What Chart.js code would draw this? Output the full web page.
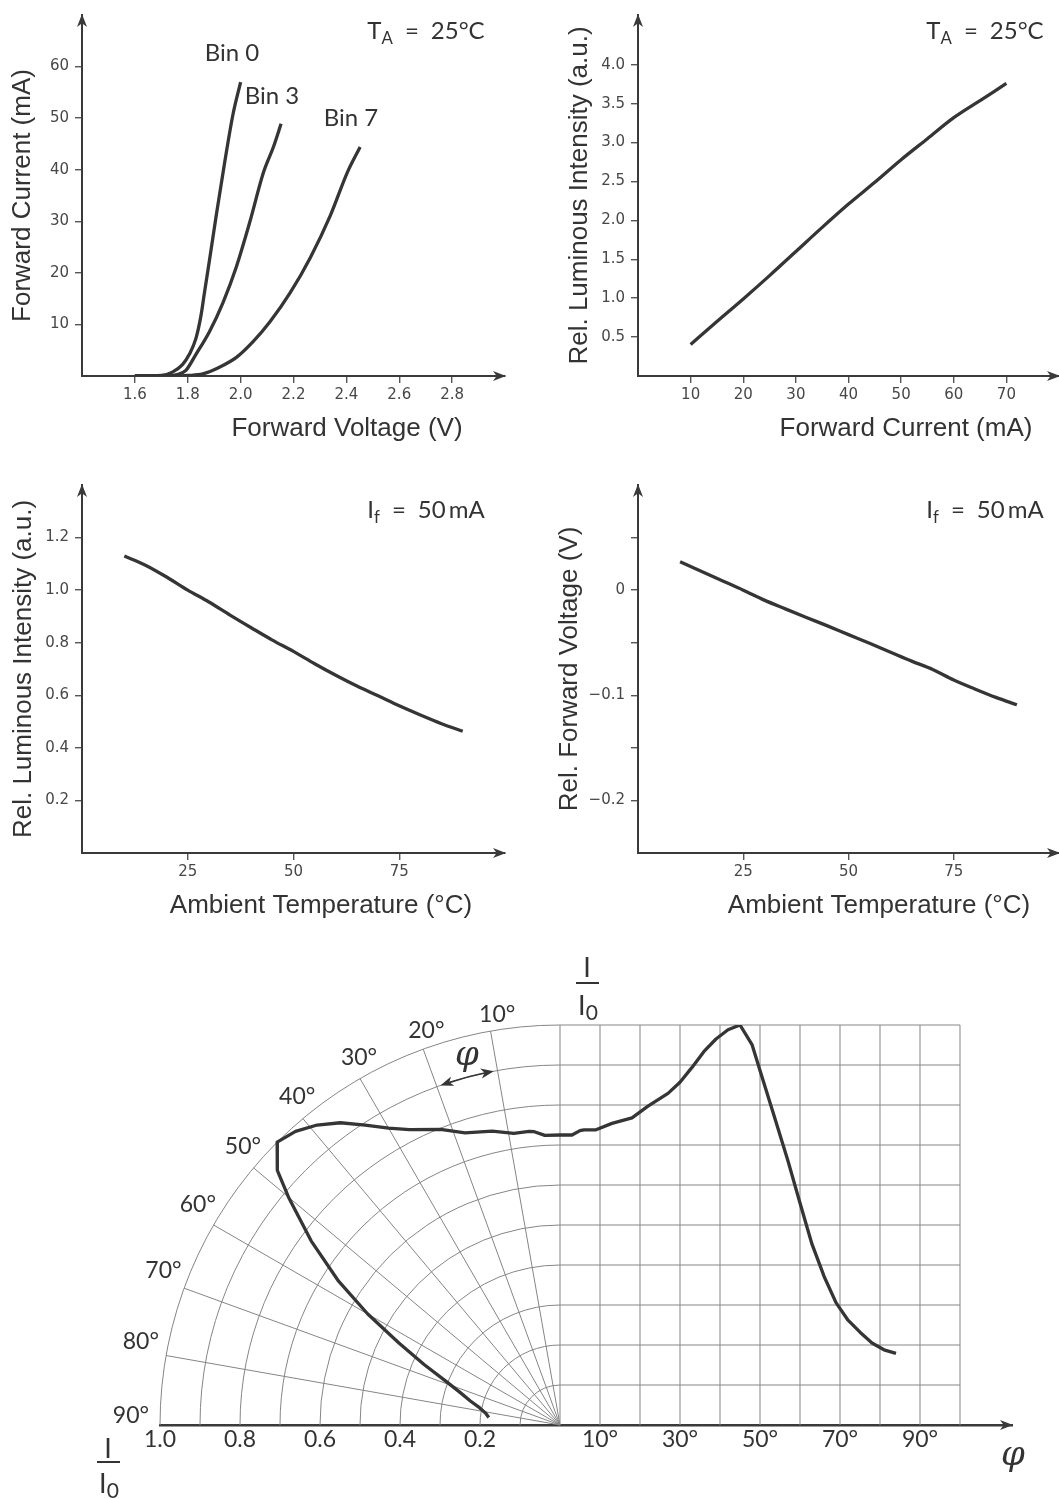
<!DOCTYPE html>
<html lang="en">
<head>
<meta charset="utf-8">
<title>LED characteristics</title>
<script src="https://cdn.jsdelivr.net/npm/chart.js@4.4.1/dist/chart.umd.min.js"></script>
<style>
  html, body { margin: 0; padding: 0; background: #fff; }
  #page { position: relative; width: 1059px; height: 1499px; overflow: hidden; background: #fff; }
  #page canvas { position: absolute; }
  .note {
    position: absolute; transform: translate(-50%, -50%);
    font-family: Lato, "Noto Sans", sans-serif; font-size: 24px; line-height: 1;
    color: #333; white-space: nowrap;
  }
  .note .sub { position: relative; top: 0.3em; font-size: 0.7em; }
  .note .sub0 { position: relative; top: 0.22em; font-size: 0.78em; }
  .phi { font-family: "DejaVu Serif", serif; font-style: italic; font-size: 34px; }
  .bar { position: absolute; height: 1.6px; background: #333; }
</style>
</head>
<body>
<div id="page">
  <canvas id="ivChart" width="530" height="460" style="left:0;top:0"></canvas>
  <canvas id="lumCurChart" width="529" height="460" style="left:530px;top:0"></canvas>
  <canvas id="lumTempChart" width="530" height="460" style="left:0;top:470px"></canvas>
  <canvas id="vfTempChart" width="529" height="460" style="left:530px;top:470px"></canvas>
  <canvas id="beamChart" width="1059" height="559" style="left:0;top:940px"></canvas>

  <div class="note" style="left:232px;top:52px">Bin 0</div>
  <div class="note" style="left:272px;top:95px">Bin 3</div>
  <div class="note" style="left:351px;top:117px">Bin 7</div>

  <div class="note" style="left:426px;top:30px">T<span class="sub">A</span>&ensp;=&ensp;25°C</div>
  <div class="note" style="left:985px;top:30px">T<span class="sub">A</span>&ensp;=&ensp;25°C</div>
  <div class="note" style="left:426px;top:509px">I<span class="sub">f</span>&ensp;=&ensp;50&thinsp;mA</div>
  <div class="note" style="left:985px;top:509px">I<span class="sub">f</span>&ensp;=&ensp;50&thinsp;mA</div>

  <!-- I / I0 fractions -->
  <div class="note" style="left:587px;top:966px;font-size:27px">I</div>
  <div class="bar" style="left:576px;top:982px;width:23px"></div>
  <div class="note" style="left:588px;top:1004px;font-size:27px">I<span class="sub0">0</span></div>

  <div class="note" style="left:108px;top:1447px;font-size:27px">I</div>
  <div class="bar" style="left:97px;top:1461px;width:23px"></div>
  <div class="note" style="left:109px;top:1482px;font-size:27px">I<span class="sub0">0</span></div>

  <div class="note phi" style="left:467px;top:1053px">φ</div>
  <div class="note phi" style="left:1013px;top:1453px">φ</div>
</div>

<script>
// ---- forward current vs forward voltage (T_A = 25 °C)
const bin0Volt = [1.60, 1.70, 1.742, 1.78, 1.806, 1.831, 1.85, 1.863, 1.882, 1.908, 1.939, 1.971, 2.00];
const bin0Curr = [0, 0.1, 0.75, 2.2, 4.2, 7.3, 11.7, 16.1, 22.4, 31.2, 41.2, 50.7, 57];
const bin3Volt = [1.60, 1.72, 1.76, 1.793, 1.831, 1.882, 1.933, 1.984, 2.035, 2.086, 2.124, 2.153];
const bin3Curr = [0, 0, 0.3, 1.1, 4.2, 8.6, 14.2, 21.2, 29.9, 39.4, 44.4, 48.9];
const bin7Volt = [1.60, 1.75, 1.80, 1.857, 1.92, 1.984, 2.048, 2.111, 2.187, 2.264, 2.34, 2.403, 2.452];
const bin7Curr = [0, 0, 0.1, 0.4, 1.7, 3.6, 6.7, 10.5, 16.1, 23.0, 31.2, 39.4, 44.4];
const ivVoltTicks = [1.6, 1.8, 2.0, 2.2, 2.4, 2.6, 2.8];
const ivCurrTicks = [10, 20, 30, 40, 50, 60];

// ---- relative luminous intensity vs forward current
const lcCurrent = [10, 15, 20, 25, 30, 35, 40, 45, 50, 55, 60, 65, 70];
const lcLum = [0.405, 0.70, 0.99, 1.29, 1.60, 1.91, 2.21, 2.49, 2.78, 3.05, 3.32, 3.54, 3.76];
const lcCurrTicks = [10, 20, 30, 40, 50, 60, 70];
const lcLumTicks = [0.5, 1.0, 1.5, 2.0, 2.5, 3.0, 3.5, 4.0];

// ---- vs ambient temperature (I_f = 50 mA)
const ambTemp = [10, 15, 20, 25, 30, 35, 40, 45, 50, 55, 60, 65, 70, 75, 80, 85, 90];
const lumVsTemp = [1.13, 1.095, 1.05, 1.0, 0.955, 0.905, 0.857, 0.81, 0.767, 0.72, 0.676, 0.635, 0.598, 0.56, 0.525, 0.492, 0.463];
const vfVsTemp = [0.027, 0.018, 0.009, 0.0, -0.0095, -0.0178, -0.026, -0.034, -0.0423, -0.0505, -0.059, -0.0675, -0.0755, -0.0855, -0.094, -0.102, -0.109];
const tempTicks = [25, 50, 75];
const lumTempTicks = [0.2, 0.4, 0.6, 0.8, 1.0, 1.2];
const vfTicks = [0.05, 0, -0.05, -0.1, -0.15, -0.2];
const vfTickLabels = ['', '0', '', '\u22120.1', '', '\u22120.2'];

// ---- radiation pattern: angle (deg) vs I/I0
const beamPhi = [0, 3, 5, 6, 9, 13, 18, 22, 27, 30, 33, 36, 39, 42, 45, 48, 50, 53.5, 57, 60, 63, 66, 69, 72, 75, 78, 81, 84];
const beamRel = [0.725, 0.725, 0.736, 0.738, 0.738, 0.754, 0.768, 0.797, 0.829, 0.857, 0.894, 0.934, 0.965, 0.988, 1.0, 0.951, 0.886, 0.774, 0.660, 0.555, 0.452, 0.372, 0.306, 0.262, 0.232, 0.205, 0.188, 0.179];
const polarRelTicks = [1.0, 0.8, 0.6, 0.4, 0.2];
const polarPhiTicks = [10, 30, 50, 70, 90];
const gridRadii = [0.1, 0.2, 0.3, 0.4, 0.5, 0.6, 0.7, 0.8, 0.9, 1.0];
const spokeAngles = [0, 10, 20, 30, 40, 50, 60, 70, 80];
const spokeLabels = [10, 20, 30, 40, 50, 60, 70, 80, 90];
const rectPhiLines = [10, 20, 30, 40, 50, 60, 70, 80, 90, 100];
const PHI_SPAN = 100; // degrees across the right-hand grid (= one radius)

const INK = '#353535';
const AXIS = '#3a3a3a';
const SANS = '"Liberation Sans", Arial, sans-serif';
const LATO = 'Lato, "Noto Sans", sans-serif';

Chart.defaults.animation = false;
Chart.defaults.font.family = '"DejaVu Sans", sans-serif';
Chart.defaults.color = '#474747';

function pts(xs, ys) {
  return xs.map((x, i) => ({ x: x, y: ys[i] }));
}

function curve(xs, ys, smooth) {
  return {
    data: pts(xs, ys), showLine: true, fill: false,
    borderColor: INK, borderWidth: 3.3, pointRadius: 0,
    borderJoinStyle: 'round', borderCapStyle: 'butt',
    cubicInterpolationMode: smooth ? 'monotone' : 'default', tension: 0
  };
}

function fixedTicks(vals) {
  return function (s) { s.ticks = vals.map(v => ({ value: v })); };
}

function arrowHead(ctx, x, y, dx, dy) {
  const len = 13, half = 5, px = -dy, py = dx;
  ctx.beginPath();
  ctx.moveTo(x, y);
  ctx.lineTo(x - dx * len + px * half, y - dy * len + py * half);
  ctx.lineTo(x - dx * len * 0.72, y - dy * len * 0.72);
  ctx.lineTo(x - dx * len - px * half, y - dy * len - py * half);
  ctx.closePath();
  ctx.fill();
}

// arrows at the open ends of the axes
const axisArrows = {
  id: 'axisArrows',
  afterDraw(chart, args, opts) {
    const { ctx, chartArea: a } = chart;
    ctx.save();
    ctx.fillStyle = AXIS;
    if (opts.up !== false) arrowHead(ctx, a.left, a.top - 1, 0, -1);
    arrowHead(ctx, a.right + 1, a.bottom, 1, 0);
    ctx.restore();
  }
};

// x axis title, offset from the left end of the axis like in the reference
const xTitle = {
  id: 'xTitle',
  afterDraw(chart, args, opts) {
    if (!opts.text) return;
    const { ctx, chartArea: a } = chart;
    ctx.save();
    ctx.font = '26px ' + SANS;
    ctx.fillStyle = '#333';
    ctx.textAlign = 'center';
    ctx.textBaseline = 'middle';
    ctx.fillText(opts.text, a.left + opts.dx, a.bottom + 53);
    ctx.restore();
  }
};

function smallChart(id, o) {
  return new Chart(document.getElementById(id), {
    type: 'scatter',
    data: { datasets: o.sets },
    options: {
      responsive: false,
      layout: { padding: o.pad },
      plugins: {
        legend: { display: false },
        tooltip: { enabled: false },
        xTitle: { text: o.xTitle, dx: o.xTitleDx }
      },
      scales: {
        x: {
          type: 'linear', min: o.xMin, max: o.xMax,
          afterBuildTicks: fixedTicks(o.xTicks),
          afterFit: s => { s.height = o.xAxisH; },
          ticks: { autoSkip: false, maxRotation: 0, padding: 3, font: { size: 15 },
                   callback: (v, i) => o.xLabels[i] },
          grid: { drawOnChartArea: false, tickLength: 7, color: '#555', lineWidth: 1.4 },
          border: { color: AXIS, width: 2 }
        },
        y: {
          type: 'linear', min: o.yMin, max: o.yMax,
          afterBuildTicks: fixedTicks(o.yTicks),
          afterFit: s => { s.width = o.yAxisW; },
          ticks: { autoSkip: false, padding: 6, font: { size: 15 },
                   callback: (v, i) => o.yLabels[i] },
          grid: { drawOnChartArea: false, tickLength: 7, color: '#555', lineWidth: 1.4 },
          border: { color: AXIS, width: 2 },
          title: { display: true, text: o.yTitle, color: '#333',
                   font: { family: SANS, size: 26 }, padding: { top: o.yTitlePad, bottom: 0 } }
        }
      }
    },
    plugins: [axisArrows, xTitle]
  });
}

smallChart('ivChart', {
  sets: [curve(bin0Volt, bin0Curr, true), curve(bin3Volt, bin3Curr, true), curve(bin7Volt, bin7Curr, true)],
  pad: { top: 5, right: 25, left: 0, bottom: 0 },
  xMin: 1.4, xMax: 3.0, xTicks: ivVoltTicks, xLabels: ivVoltTicks.map(v => v.toFixed(1)),
  yMin: 0, yMax: 70, yTicks: ivCurrTicks, yLabels: ivCurrTicks.map(String),
  xAxisH: 84, yAxisW: 82, yTitlePad: 6.9,
  yTitle: 'Forward Current (mA)', xTitle: 'Forward Voltage (V)', xTitleDx: 265
});

smallChart('lumCurChart', {
  sets: [curve(lcCurrent, lcLum, true)],
  pad: { top: 5, right: 0, left: 0, bottom: 0 },
  xMin: 0, xMax: 80, xTicks: lcCurrTicks, xLabels: lcCurrTicks.map(String),
  yMin: 0, yMax: 4.64, yTicks: lcLumTicks, yLabels: lcLumTicks.map(v => v.toFixed(1)),
  xAxisH: 84, yAxisW: 108, yTitlePad: 34.1,
  yTitle: 'Rel. Luminous Intensity (a.u.)', xTitle: 'Forward Current (mA)', xTitleDx: 268
});

smallChart('lumTempChart', {
  sets: [curve(ambTemp, lumVsTemp, true)],
  pad: { top: 14, right: 25, left: 0, bottom: 0 },
  xMin: 0, xMax: 100, xTicks: tempTicks, xLabels: tempTicks.map(String),
  yMin: 0, yMax: 1.4, yTicks: lumTempTicks, yLabels: lumTempTicks.map(v => v.toFixed(1)),
  xAxisH: 77, yAxisW: 82, yTitlePad: 8,
  yTitle: 'Rel. Luminous Intensity (a.u.)', xTitle: 'Ambient Temperature (°C)', xTitleDx: 239
});

smallChart('vfTempChart', {
  sets: [curve(ambTemp, vfVsTemp, true)],
  pad: { top: 14, right: 0, left: 0, bottom: 0 },
  xMin: 0, xMax: 100, xTicks: tempTicks, xLabels: tempTicks.map(String),
  yMin: -0.25, yMax: 0.1, yTicks: vfTicks, yLabels: vfTickLabels,
  xAxisH: 77, yAxisW: 108, yTitlePad: 24,
  yTitle: 'Rel. Forward Voltage (V)', xTitle: 'Ambient Temperature (°C)', xTitleDx: 241
});

// ---- radiation pattern: polar grid on the left, cartesian grid on the right
const polarGrid = {
  id: 'polarGrid',
  beforeDatasetsDraw(chart) {
    const { ctx, scales: { x, y } } = chart;
    const cx = x.getPixelForValue(0), cy = y.getPixelForValue(0);
    const unit = x.getPixelForValue(1) - cx;
    ctx.save();
    ctx.strokeStyle = '#858585';
    ctx.lineWidth = 1;
    gridRadii.forEach(r => {
      ctx.beginPath();
      ctx.arc(cx, cy, r * unit, Math.PI, 1.5 * Math.PI);
      ctx.stroke();
      // matching horizontal line of the right grid
      ctx.beginPath();
      ctx.moveTo(cx, y.getPixelForValue(r));
      ctx.lineTo(x.getPixelForValue(1), y.getPixelForValue(r));
      ctx.stroke();
    });
    spokeAngles.forEach(a => {
      const t = a * Math.PI / 180;
      ctx.beginPath();
      ctx.moveTo(cx, cy);
      ctx.lineTo(x.getPixelForValue(-Math.sin(t)), y.getPixelForValue(Math.cos(t)));
      ctx.stroke();
    });
    rectPhiLines.forEach(p => {
      const px = x.getPixelForValue(p / PHI_SPAN);
      ctx.beginPath();
      ctx.moveTo(px, cy);
      ctx.lineTo(px, y.getPixelForValue(1));
      ctx.stroke();
    });
    ctx.restore();
  },
  afterDraw(chart) {
    const { ctx, chartArea: a, scales: { x, y } } = chart;
    const cx = x.getPixelForValue(0), cy = y.getPixelForValue(0);
    const unit = x.getPixelForValue(1) - cx;
    ctx.save();
    // angle labels around the arc
    ctx.font = '23px ' + LATO;
    ctx.fillStyle = '#333';
    ctx.textAlign = 'center';
    ctx.textBaseline = 'middle';
    spokeLabels.forEach(d => {
      const r = 1.033 + 0.04 * d / 90;
      const t = (d - 1.3) * Math.PI / 180;
      ctx.fillText(d + '°', cx - r * unit * Math.sin(t), cy - r * unit * Math.cos(t));
    });
    // phi arrow between the 10° and 20° spokes on the 0.9 circle
    const rr = 0.9 * unit, t1 = 10.6 * Math.PI / 180, t2 = 19.4 * Math.PI / 180;
    ctx.strokeStyle = INK;
    ctx.fillStyle = INK;
    ctx.lineWidth = 1.6;
    ctx.beginPath();
    ctx.arc(cx, cy, rr, 1.5 * Math.PI - t2 + 0.02, 1.5 * Math.PI - t1 - 0.02);
    ctx.stroke();
    arrowHead(ctx, cx - rr * Math.sin(t1), cy - rr * Math.cos(t1), Math.cos(t1), -Math.sin(t1));
    arrowHead(ctx, cx - rr * Math.sin(t2), cy - rr * Math.cos(t2), -Math.cos(t2), Math.sin(t2));
    // arrow at the end of the angle axis
    ctx.fillStyle = AXIS;
    arrowHead(ctx, a.right + 1, a.bottom, 1, 0);
    ctx.restore();
  }
};

const beamTickVals = polarRelTicks.map(r => -r).concat(polarPhiTicks.map(p => p / PHI_SPAN));
const beamTickText = polarRelTicks.map(r => r.toFixed(1)).concat(polarPhiTicks.map(p => p + '°'));

new Chart(document.getElementById('beamChart'), {
  type: 'scatter',
  data: {
    datasets: [
      // polar form: radius = I/I0, angle measured from the vertical
      curve(beamPhi.map((p, i) => -beamRel[i] * Math.sin(p * Math.PI / 180)),
            beamPhi.map((p, i) => beamRel[i] * Math.cos(p * Math.PI / 180)), false),
      // cartesian form on the right
      curve(beamPhi.map(p => p / PHI_SPAN), beamRel, false)
    ]
  },
  options: {
    responsive: false,
    layout: { padding: { left: 160, right: 47, top: 85, bottom: 0 } },
    plugins: { legend: { display: false }, tooltip: { enabled: false } },
    scales: {
      x: {
        type: 'linear', min: -1, max: 1.13,
        afterBuildTicks: fixedTicks(beamTickVals),
        afterFit: s => { s.height = 74; },
        ticks: { autoSkip: false, maxRotation: 0, padding: 1, color: '#333',
                 font: { family: LATO, size: 23 }, callback: (v, i) => beamTickText[i] },
        grid: { display: false, drawTicks: false },
        border: { color: AXIS, width: 2.5 }
      },
      y: { type: 'linear', min: 0, max: 1, display: false }
    }
  },
  plugins: [polarGrid]
});
</script>
</body>
</html>
